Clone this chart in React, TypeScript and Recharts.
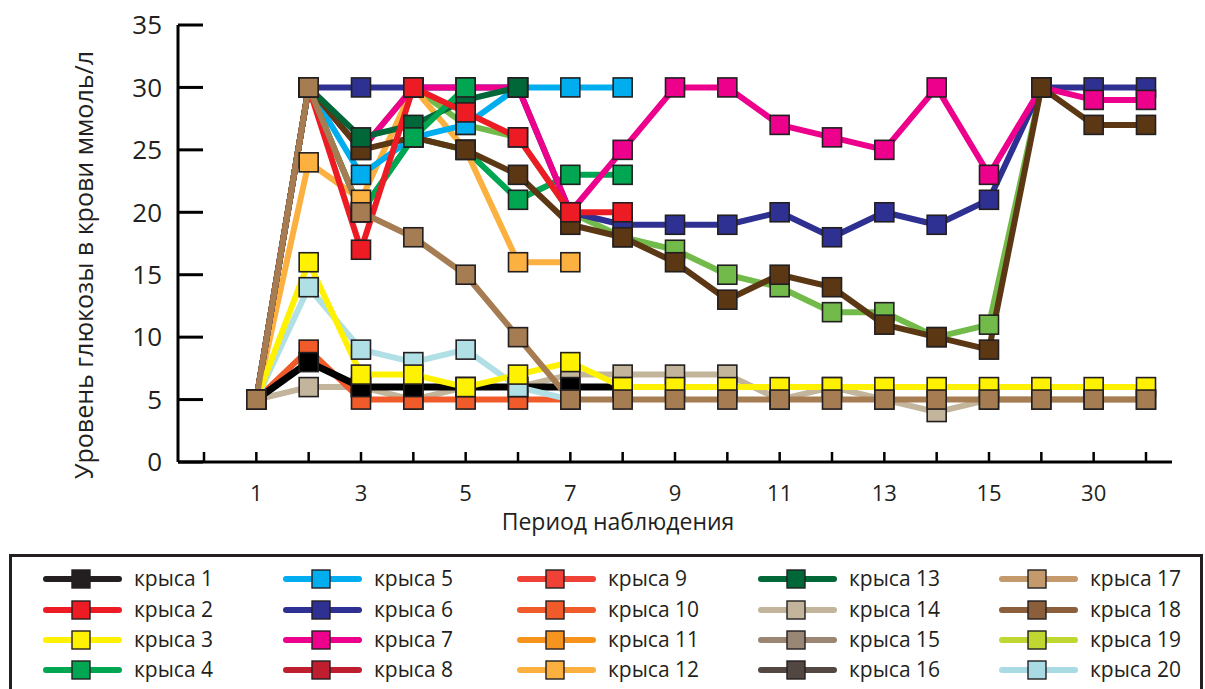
import React from 'react';
import { LineChart, Line, XAxis, YAxis, Label } from 'recharts';

// ---------- data ----------
const periods = ['', '1', '2', '3', '4', '5', '6', '7', '8', '9', '10', '11', '12', '13', '14', '15', '16', '30', '31'];
const yTicks = [0, 5, 10, 15, 20, 25, 30, 35];

const rat1 = [5, 8, 6, 6, 6, 6, 6, 6];
const rat2 = [5, 30, 17, 30, 28, 26, 20, 20];
const rat3 = [5, 16, 7, 7, 6, 7, 8, 6, 6, 6, 6, 6, 6, 6, 6, 6, 6, 6];
const rat4 = [5, 30, 20, 26, 30];
const rat5 = [5, 30, 23, 26, 27, 30, 30, 30];
const rat6 = [5, 30, 30, 30, 30, 30, 20, 19, 19, 19, 20, 18, 20, 19, 21, 30, 30, 30];
const rat7 = [5, 30, 25, 30, 30, 30, 20, 25, 30, 30, 27, 26, 25, 30, 23, 30, 29, 29];
const rat8 = [5, 30, 20, 26, 25, 21, 23, 23];
const rat10 = [5, 9, 5, 5, 5, 5, 5];
const rat12 = [5, 24, 21, 30, 25, 16, 16];
const rat13 = [5, 30, 26, 27, 29, 30];
const rat14 = [5, 6, 6, 5, 6, 6, 7, 7, 7, 7, 5, 6, 5, 4, 5, 5, 5, 5];
const rat15 = [5, 30, 20, 18, 15, 10, 5, 5, 5, 5, 5, 5, 5, 5, 5, 5, 5, 5];
const rat16 = [5, 30, 25, 26, 25, 23, 19, 18, 16, 13, 15, 14, 11, 10, 9, 30, 27, 27];
const rat19 = [5, 30, 25, 30, 27, 26, 20, 18, 17, 15, 14, 12, 12, 10, 11, 30];
const rat20 = [5, 14, 9, 8, 9, 6, 5];

const legendLabels = [
  'крыса 1', 'крыса 2', 'крыса 3', 'крыса 4', 'крыса 5', 'крыса 6', 'крыса 7', 'крыса 8', 'крыса 9', 'крыса 10',
  'крыса 11', 'крыса 12', 'крыса 13', 'крыса 14', 'крыса 15', 'крыса 16', 'крыса 17', 'крыса 18', 'крыса 19', 'крыса 20',
];
const legendColors = [
  '#231F20', '#ED1C24', '#FFF200', '#00A651', '#00AEEF', '#2E3192', '#EC008C', '#BE1E2D', '#EF4136', '#F15A29',
  '#F7941D', '#FBB040', '#006838', '#C2B59B', '#998675', '#534741', '#C49A6C', '#8B5E3C', '#BFD730', '#A8DBE3',
];

// draw order: first = bottom
const series = [
  { key: 'r14', values: rat14, color: '#C2B59B', width: 6 },
  { key: 'r10', values: rat10, color: '#F15A29', width: 6 },
  { key: 'r19', values: rat19, color: '#72BB4A', width: 6 },
  { key: 'r8', values: rat8, color: '#00A651', width: 6 },
  { key: 'r12', values: rat12, color: '#FBB040', width: 6 },
  { key: 'r6', values: rat6, color: '#2E3192', width: 6 },
  { key: 'r7', values: rat7, color: '#EC008C', width: 6 },
  { key: 'r5', values: rat5, color: '#00AEEF', width: 6 },
  { key: 'r16', values: rat16, color: '#5C3714', width: 6 },
  { key: 'r13', values: rat13, color: '#006838', width: 6 },
  { key: 'r4', values: rat4, color: '#00A651', width: 6 },
  { key: 'r2', values: rat2, color: '#ED1C24', width: 6 },
  { key: 'r1', values: rat1, color: '#000000', width: 7 },
  { key: 'r20', values: rat20, color: '#B0DFE5', width: 6 },
  { key: 'r3', values: rat3, color: '#FFF200', width: 6 },
  { key: 'r15', values: rat15, color: '#A67C52', width: 6 },
];

const tableData = periods.map((p, i) => {
  const row: Record<string, any> = { period: p };
  series.forEach((s) => {
    const v = i === 0 ? undefined : s.values[i - 1];
    row[s.key] = v === undefined ? null : v;
  });
  return row;
});

const FONT = '"Open Sans", sans-serif';
const INK = '#231F20';

const makeDot = (color: string, sKey: string) => (props: any) => {
  const { cx, cy, index } = props;
  const v = props.payload ? props.payload[sKey] : null;
  if (cx == null || cy == null || v == null) return <g key={`${sKey}-d-${index}`} />;
  return (
    <rect
      key={`${sKey}-d-${index}`}
      x={cx - 9.5}
      y={cy - 9.5}
      width={19}
      height={19}
      fill={color}
      stroke={INK}
      strokeWidth={1.6}
    />
  );
};

const xTickFormatter = (v: string, i: number) => (i % 2 === 1 ? v : '');

export default function App() {
  const colX = [43, 283, 517, 758, 999];
  const rowY = [579, 610, 640, 670];
  return (
    <div
      style={{
        position: 'absolute',
        left: 0,
        top: 0,
        width: 1205,
        height: 689,
        overflow: 'hidden',
        background: '#fff',
        fontFamily: FONT,
      }}
    >
      <LineChart
        width={1205}
        height={689}
        data={tableData}
        margin={{ top: 25, left: 118, right: 33, bottom: 167 }}
      >
        <XAxis
          dataKey="period"
          type="category"
          interval={0}
          padding={{ left: 26, right: 26 }}
          height={60}
          tickSize={-10}
          tickMargin={33}
          tickFormatter={xTickFormatter}
          axisLine={{ stroke: '#000', strokeWidth: 3 }}
          tickLine={{ stroke: '#000', strokeWidth: 2.5 }}
          tick={{ fontSize: 22, fill: INK, fontFamily: FONT }}
        >
          <Label
            content={() => (
              <text x={618} y={530} textAnchor="middle" fontSize={23} fill={INK} fontFamily={FONT}>
                Период наблюдения
              </text>
            )}
          />
        </XAxis>
        <YAxis
          type="number"
          domain={[0, 35]}
          ticks={yTicks}
          width={60}
          tickSize={-25}
          tickMargin={41}
          axisLine={{ stroke: '#000', strokeWidth: 3 }}
          tickLine={{ stroke: '#000', strokeWidth: 3 }}
          tick={{ fontSize: 26, fill: INK, fontFamily: FONT }}
        >
          <Label
            content={() => (
              <text
                x={93}
                y={265}
                transform="rotate(-90 93 265)"
                textAnchor="middle"
                fontSize={25}
                fill={INK}
                fontFamily={FONT}
              >
                Уровень глюкозы в крови ммоль/л
              </text>
            )}
          />
        </YAxis>
        {series.map((s) => (
          <Line
            key={s.key}
            dataKey={s.key}
            stroke={s.color}
            strokeWidth={s.width}
            strokeLinejoin="round"
            dot={makeDot(s.color, s.key)}
            activeDot={false}
            isAnimationActive={false}
            connectNulls={false}
          />
        ))}
      </LineChart>

      <div
        style={{
          position: 'absolute',
          left: 9,
          top: 554,
          width: 1194,
          height: 160,
          border: `3px solid ${INK}`,
          boxSizing: 'border-box',
        }}
      />
      {legendLabels.map((lab, i) => {
        const col = Math.floor(i / 4);
        const row = i % 4;
        const x0 = colX[col];
        const y0 = rowY[row];
        const c = legendColors[i];
        return (
          <div key={lab} style={{ position: 'absolute', left: x0, top: y0 - 12, height: 24 }}>
            <svg width={80} height={24} style={{ position: 'absolute', left: 0, top: 0 }}>
              <line x1={3} y1={12} x2={76} y2={12} stroke={c} strokeWidth={6} strokeLinecap="round" />
              <rect x={29} y={3} width={18} height={18} fill={c} stroke={INK} strokeWidth={1.4} />
            </svg>
            <span
              style={{
                position: 'absolute',
                left: 91,
                top: -3,
                fontSize: 21,
                color: INK,
                whiteSpace: 'nowrap',
                lineHeight: '28px',
              }}
            >
              {lab}
            </span>
          </div>
        );
      })}
    </div>
  );
}
